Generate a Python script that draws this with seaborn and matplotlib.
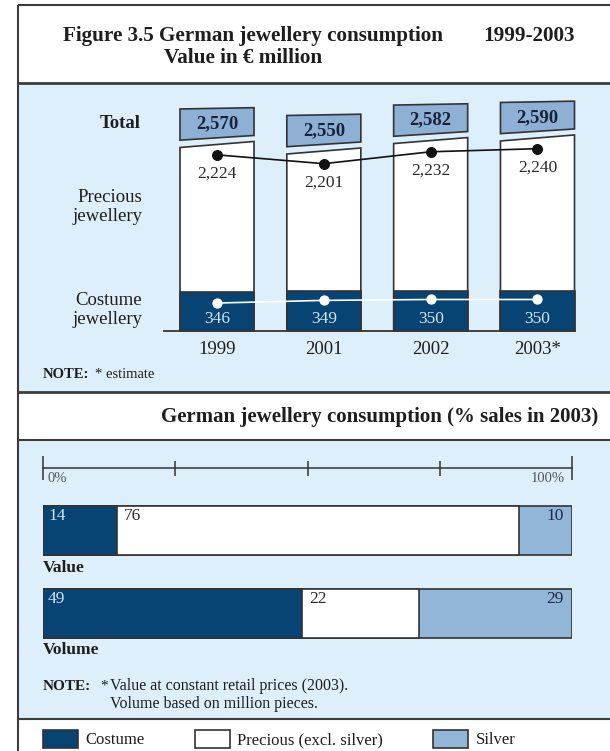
import numpy as np
import matplotlib
matplotlib.use("Agg")
import matplotlib.pyplot as plt
from matplotlib.patches import Rectangle, Polygon, Patch
import seaborn as sns

# ---- data -------------------------------------------------------------
years = ["1999", "2001", "2002", "2003*"]
total = [2570, 2550, 2582, 2590]
precious = [2224, 2201, 2232, 2240]
costume = [346, 349, 350, 350]

share_rows = ["Value", "Volume"]
share_costume = [14, 49]
share_precious = [76, 22]
share_silver = [10, 29]

# ---- style ------------------------------------------------------------
NAVY = "#084473"
SILVER = "#92b6d8"
BOX = "#8db0d4"
PANEL = "#ddeffb"
EDGE = "#333333"
FRAME = "#3c3c3c"
INK = "#1e1e1e"
LIGHT = "#d4e3f2"

sns.set_theme(style="white")
plt.rcParams["font.family"] = ["Liberation Serif", "DejaVu Serif"]

W, H = 610, 751
fig = plt.figure(figsize=(W / 100, H / 100), dpi=100, facecolor="white")


def frac(x0, y0, x1, y1):
    """Pixel box (origin top-left) -> figure-fraction rectangle."""
    return [x0 / W, 1 - y1 / H, (x1 - x0) / W, (y1 - y0) / H]


# background canvas in pixel units for panels, frame and captions
bg = fig.add_axes([0, 0, 1, 1])
bg.set_xlim(0, W)
bg.set_ylim(H, 0)
bg.axis("off")

bg.add_patch(Rectangle((18, 83), W - 18, 392 - 83, facecolor=PANEL, edgecolor="none"))
bg.add_patch(Rectangle((18, 440), W - 18, 719 - 440, facecolor=PANEL, edgecolor="none"))
bg.hlines([5], 18, W, colors=FRAME, lw=1.5)
bg.hlines([83, 392], 18, W, colors=FRAME, lw=2.0)
bg.hlines([440, 719], 18, W, colors=FRAME, lw=1.5)
bg.vlines([18], 5, H, colors=FRAME, lw=1.5)

# titles
bg.text(63, 36, "Figure 3.5 German jewellery consumption", fontsize=15.2,
        fontweight="bold", color=INK, va="center", ha="left")
bg.text(575, 36, "1999-2003", fontsize=15.2, fontweight="bold", color=INK,
        va="center", ha="right")
bg.text(164, 58, "Value in \u20ac million", fontsize=15.2, fontweight="bold",
        color=INK, va="center", ha="left")
bg.text(598, 417, "German jewellery consumption (% sales in 2003)", fontsize=15,
        fontweight="bold", color=INK, va="center", ha="right")

# row captions of the upper chart
bg.text(141, 123, "Total", fontsize=13.5, fontweight="bold", color=INK,
        ha="right", va="center")
bg.text(142, 207, "Precious\njewellery", fontsize=13.5, color=INK, ha="right",
        va="center", linespacing=1.15)
bg.text(142, 310, "Costume\njewellery", fontsize=13.5, color=INK, ha="right",
        va="center", linespacing=1.15)

# notes
bg.text(43, 375, "NOTE:", fontsize=10.5, fontweight="bold", color=INK, va="center")
bg.text(95, 375, "* estimate", fontsize=10.5, color=INK, va="center")
bg.text(43, 686, "NOTE:", fontsize=11, fontweight="bold", color=INK, va="center")
bg.text(100, 686, "*", fontsize=11, color=INK, va="center")
bg.text(110, 686, "Value at constant retail prices (2003).", fontsize=11.5,
        color=INK, va="center")
bg.text(110, 704, "Volume based on million pieces.", fontsize=11.5, color=INK,
        va="center")
bg.text(43, 568, share_rows[0], fontsize=12.5, fontweight="bold", color=INK, va="center")
bg.text(43, 650, share_rows[1], fontsize=12.5, fontweight="bold", color=INK, va="center")

# ---- upper chart: stacked value bars ----------------------------------
BASE = 330.7
anchor_v = np.array([0.0, 350.0, 2550.0, 2700.0])
anchor_p = np.array([0.0, 39.5, 179.7, 228.6])


def _piecewise(x, xs, ys):
    x = np.asarray(x, dtype=float)
    y = np.interp(x, xs, ys)
    y = np.where(x < xs[0], ys[0] + (x - xs[0]) * (ys[1] - ys[0]) / (xs[1] - xs[0]), y)
    y = np.where(x > xs[-1], ys[-1] + (x - xs[-1]) * (ys[-1] - ys[-2]) / (xs[-1] - xs[-2]), y)
    return y


def fwd(v):
    return _piecewise(v, anchor_v, anchor_p)


def inv(p):
    return _piecewise(p, anchor_p, anchor_v)


ax = fig.add_axes(frac(163.6, BASE - anchor_p[-1], 590.9, BASE))
ax.patch.set_visible(False)
BW = 0.693
sns.barplot(x=years, y=total, ax=ax, color="white", edgecolor=EDGE,
            linewidth=1.2, width=BW, saturation=1, errorbar=None)
sns.barplot(x=years, y=costume, ax=ax, color=NAVY, edgecolor=EDGE,
            linewidth=1.2, width=BW, saturation=1, errorbar=None)
ax.set_yscale("function", functions=(fwd, inv))
ax.set_ylim(0, anchor_v[-1])
ax.set_xlim(-0.5, len(years) - 0.5)
ax.set_xlabel("")
ax.set_ylabel("")
ax.set_yticks([])
for s in ("top", "left", "right"):
    ax.spines[s].set_visible(False)
ax.spines["bottom"].set_color(EDGE)
ax.spines["bottom"].set_linewidth(1.3)
ax.spines["bottom"].set_bounds(-0.5, len(years) - 1 + BW / 2)
ax.tick_params(axis="x", length=0, pad=7.5, labelsize=13.5, labelcolor=INK)


def to_bg(pts):
    return bg.transData.inverted().transform(ax.transData.transform(pts))


# total bars get a slanted lid and a label box floating above them
for p, tot in zip(ax.patches[:len(years)], total):
    x0, w, h = p.get_x(), p.get_width(), p.get_height()
    (xl, yt), (xr, _), (_, yb) = to_bg([(x0, h), (x0 + w, h), (x0, 0)])
    p.set_visible(False)
    bg.add_patch(Polygon([(xl, yb), (xr, yb), (xr, yt - 3), (xl, yt + 3)],
                         closed=True, facecolor="white", edgecolor=EDGE, lw=1.2))
    bl, br = yt + 3 - 7.3, yt - 3 - 6.0
    tl, tr = bl - 31.2, br - 27.8
    bg.add_patch(Polygon([(xl, bl), (xr, br), (xr, tr), (xl, tl)], closed=True,
                         facecolor=BOX, edgecolor=EDGE, lw=1.2))
    bg.text((xl + xr) / 2, (bl + br + tl + tr) / 4 + 1, f"{tot:,}", fontsize=13.5,
            fontweight="bold", color="#17233a", ha="center", va="center")

# costume labels inside the dark segments
for i, v in enumerate(costume):
    ax.annotate(f"{v}", (i, 0), xytext=(0, 12), textcoords="offset pixels",
                ha="center", va="center", fontsize=12.5, color=LIGHT)


def trend_axis(slope, v_mid, p_mid):
    t = ax.twinx()
    lo = v_mid - p_mid / slope
    t.set_ylim(lo, lo + anchor_p[-1] / slope)
    return t


# precious jewellery trend
ax2 = trend_axis(0.3846, 2224.25, 175.95)
sns.pointplot(x=years, y=precious, ax=ax2, color="#111111", errorbar=None,
              markersize=7, linewidth=1.2)
for i, v in enumerate(precious):
    ax2.annotate(f"{v:,}", (i, v), xytext=(0, -19), textcoords="offset pixels",
                 ha="center", va="center", fontsize=12.5, color="#2a2a2a")

# costume jewellery trend
ax3 = trend_axis(0.884, 348.75, 30.1)
sns.pointplot(x=years, y=costume, ax=ax3, color="white", errorbar=None,
              markersize=6.5, linewidth=1.2)

for t in (ax2, ax3):
    t.set_ylabel("")
    t.set_yticks([])
    for s in t.spines.values():
        s.set_visible(False)

# ---- lower chart: 100% share bars -------------------------------------
axp = fig.add_axes(frac(43, 489, 572, 655))
axp.patch.set_visible(False)
cum_cp = np.add(share_costume, share_precious)
cum_all = cum_cp + np.array(share_silver)
SH = 0.59
for vals, col in ((cum_all, SILVER), (cum_cp, "white"), (share_costume, NAVY)):
    sns.barplot(x=list(vals), y=share_rows, orient="h", ax=axp, color=col,
                edgecolor=EDGE, linewidth=1.2, width=SH, saturation=1,
                errorbar=None)
axp.set_xlim(0, 100)
axp.set_ylim(len(share_rows) - 0.5, -0.5)
axp.set_xlabel("")
axp.set_ylabel("")
axp.set_yticks([])
for s in ("left", "right", "bottom"):
    axp.spines[s].set_visible(False)
axp.spines["top"].set_position(("outward", 14.9))
axp.spines["top"].set_color(EDGE)
axp.spines["top"].set_linewidth(1.1)
axp.xaxis.set_ticks_position("top")
axp.set_xticks([0, 100])
axp.set_xticks([25, 50, 75], minor=True)
axp.tick_params(axis="x", which="both", top=True, bottom=False, labeltop=False,
                labelbottom=False, direction="inout", color=EDGE, width=1.1)
axp.tick_params(axis="x", which="major", length=17.3)
axp.tick_params(axis="x", which="minor", length=10.8)
axp.annotate("0%", (0, 1), xycoords=("data", "axes fraction"), xytext=(4, 10),
             textcoords="offset pixels", ha="left", va="center", fontsize=10.5,
             color="#555555")
axp.annotate("100%", (100, 1), xycoords=("data", "axes fraction"), xytext=(-7, 10),
             textcoords="offset pixels", ha="right", va="center", fontsize=10.5,
             color="#555555")

for i in range(len(share_rows)):
    top = i - SH / 2
    axp.annotate(f"{share_costume[i]}", (0, top), xytext=(5, -10),
                 textcoords="offset pixels", ha="left", va="center",
                 fontsize=12.5, color=LIGHT)
    axp.annotate(f"{share_precious[i]}", (share_costume[i], top), xytext=(7, -10),
                 textcoords="offset pixels", ha="left", va="center",
                 fontsize=12.5, color="#2a2a2a")
    axp.annotate(f"{share_silver[i]}", (cum_all[i], top), xytext=(-8, -10),
                 textcoords="offset pixels", ha="right", va="center",
                 fontsize=12.5, color="#1c2c48")

# ---- legend -----------------------------------------------------------
handles = [Patch(facecolor=NAVY, edgecolor=EDGE, lw=1.2, label="Costume"),
           Patch(facecolor="white", edgecolor=EDGE, lw=1.2, label="Precious (excl. silver)"),
           Patch(facecolor=SILVER, edgecolor=EDGE, lw=1.2, label="Silver")]
fig.legend(handles=handles, loc="center left", bbox_to_anchor=(43 / W, 1 - 739 / H),
           ncol=3, frameon=False, fontsize=12, handlelength=2.1, handleheight=1.32,
           handletextpad=0.45, columnspacing=3.0, borderpad=0, borderaxespad=0,
           labelcolor=INK)

fig.savefig("out.png", dpi=100, facecolor="white")
